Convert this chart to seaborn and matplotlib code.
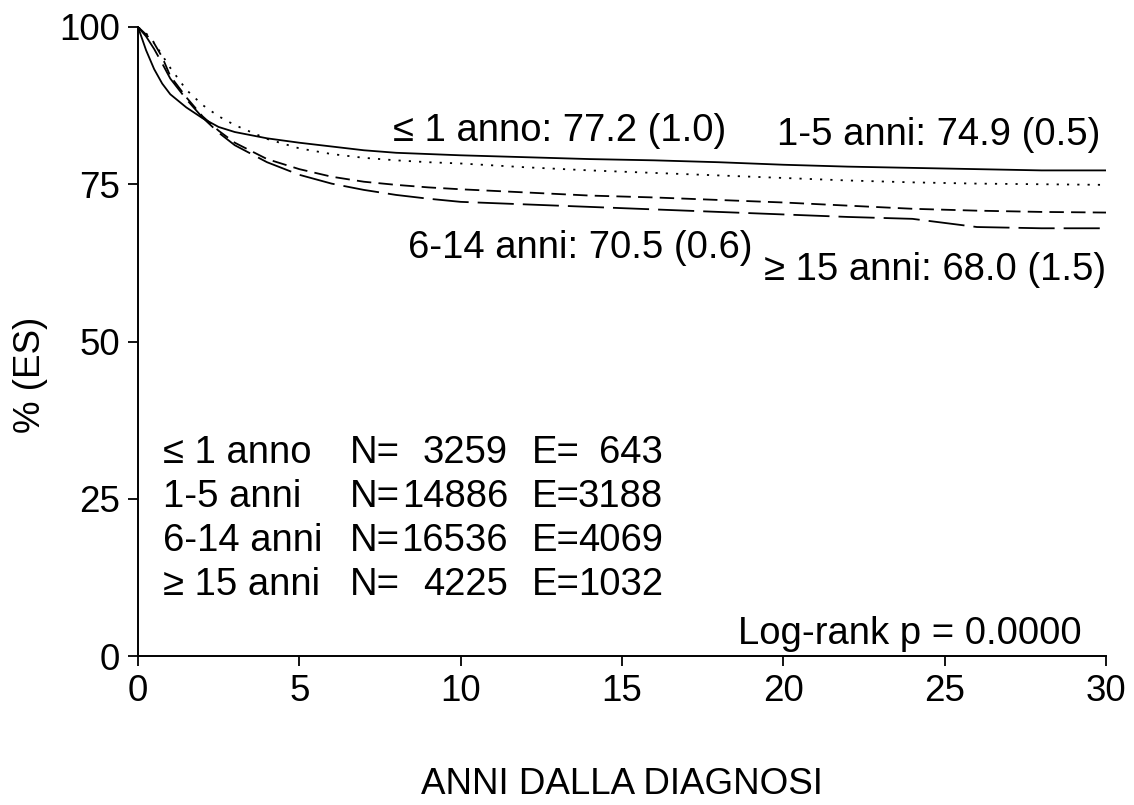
import pandas as pd
import matplotlib
matplotlib.use("Agg")
import matplotlib.pyplot as plt
import seaborn as sns

# Survival curves (% alive vs years since diagnosis)
anni = [0, 0.25, 0.5, 0.75, 1, 1.5, 2, 2.5, 3, 4, 5, 6, 7, 8, 9, 10,
        12, 14, 16, 18, 20, 22, 24, 26, 28, 30]

gruppi = ["<= 1 anno", "1-5 anni", "6-14 anni", ">= 15 anni"]

surv_le1 = [100, 96.3, 93.3, 91.0, 89.3, 87.2, 85.5, 84.1, 83.3, 82.3, 81.6,
            81.0, 80.4, 80.0, 79.8, 79.6, 79.3, 79.0, 78.8, 78.5, 78.1, 77.8,
            77.6, 77.4, 77.2, 77.2]
surv_1_5 = [100, 99.0, 97.5, 95.5, 93.5, 90.0, 87.6, 85.8, 84.4, 82.2, 80.7,
            79.8, 79.2, 78.8, 78.5, 78.3, 77.7, 77.2, 76.8, 76.4, 76.0, 75.6,
            75.3, 75.1, 75.0, 74.9]
surv_6_14 = [100, 98.8, 97.4, 95.2, 92.2, 88.8, 85.8, 83.5, 81.6, 79.0, 77.4,
             76.2, 75.4, 74.9, 74.5, 74.2, 73.7, 73.2, 72.9, 72.5, 72.1, 71.6,
             71.1, 70.8, 70.6, 70.5]
surv_ge15 = [100, 98.5, 96.5, 94.2, 91.8, 88.5, 85.6, 83.2, 81.2, 78.5, 76.5,
             75.1, 74.1, 73.3, 72.7, 72.2, 71.8, 71.4, 71.0, 70.6, 70.2, 69.8,
             69.5, 68.2, 68.0, 68.0]

# curve labels and the N / E table
etichette = ["\u2264 1 anno: 77.2 (1.0)", "1-5 anni: 74.9 (0.5)",
             "6-14 anni: 70.5 (0.6)", "\u2265 15 anni: 68.0 (1.5)"]
righe_tab = ["\u2264 1 anno", "1-5 anni", "6-14 anni", "\u2265 15 anni"]
n_pazienti = [3259, 14886, 16536, 4225]
n_eventi = [643, 3188, 4069, 1032]

df = pd.concat([
    pd.DataFrame({"anni": anni, "pct": s, "gruppo": g})
    for g, s in zip(gruppi, [surv_le1, surv_1_5, surv_6_14, surv_ge15])
])

sns.set_style("ticks")
plt.rcParams["font.family"] = ["Liberation Sans", "DejaVu Sans"]
for k in ["text.color", "axes.labelcolor", "xtick.color", "ytick.color",
          "axes.edgecolor"]:
    plt.rcParams[k] = "black"

fig, ax = plt.subplots(figsize=(11.34, 8.05), dpi=100)
fig.subplots_adjust(left=0.1217, right=0.9753, bottom=0.185, top=0.9665)

stili = {gruppi[0]: "", gruppi[1]: (1.2, 4.5), gruppi[2]: (8, 4), gruppi[3]: (20, 5)}
sns.lineplot(data=df, x="anni", y="pct", hue="gruppo", style="gruppo",
             palette=["black"] * 4, dashes=stili, estimator=None,
             linewidth=1.3, legend=False, ax=ax)

ax.set_xlim(0, 30)
ax.set_ylim(0, 100)
ax.set_xticks([0, 5, 10, 15, 20, 25, 30])
ax.set_yticks([0, 25, 50, 75, 100])
sns.despine(ax=ax)
for s in ["left", "bottom"]:
    ax.spines[s].set_linewidth(1.4)
ax.tick_params(direction="out", length=7, width=1.3, labelsize=26.5, pad=6)

ax.set_xlabel("ANNI DALLA DIAGNOSI", fontsize=26.5, labelpad=42)
ax.set_ylabel("% (ES)", fontsize=26.5)
ax.yaxis.set_label_coords(-0.093, 0.447)

fs = 27.5
ax.text(7.9, 81.9, etichette[0], fontsize=fs, ha="left", va="baseline")
ax.text(19.8, 81.3, etichette[1], fontsize=fs, ha="left", va="baseline")
ax.text(8.37, 63.3, etichette[2], fontsize=fs, ha="left", va="baseline")
ax.text(19.4, 59.7, etichette[3], fontsize=fs, ha="left", va="baseline",
        clip_on=False)

y_righe = [30.7, 23.7, 16.7, 9.7]
for lab, n, e, yy in zip(righe_tab, n_pazienti, n_eventi, y_righe):
    ax.text(0.78, yy, lab, fontsize=fs, ha="left", va="baseline")
    ax.text(6.57, yy, "N=", fontsize=fs, ha="left", va="baseline")
    ax.text(11.47, yy, str(n), fontsize=fs, ha="right", va="baseline")
    ax.text(12.2, yy, "E=", fontsize=fs, ha="left", va="baseline")
    ax.text(16.27, yy, str(e), fontsize=fs, ha="right", va="baseline")

ax.text(29.25, 1.9, "Log-rank p = 0.0000", fontsize=fs, ha="right", va="baseline")

plt.savefig("out.png", dpi=100)
